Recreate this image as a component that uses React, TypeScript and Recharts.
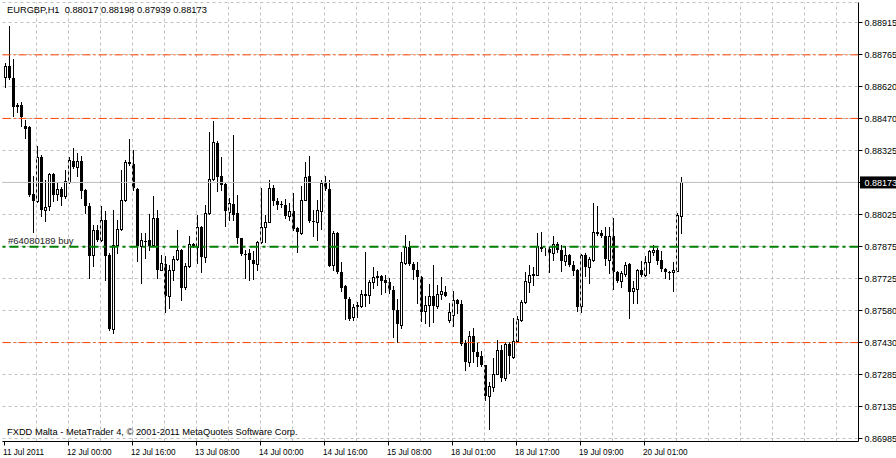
import React from 'react';
import { ComposedChart, Bar, XAxis, YAxis, CartesianGrid, ReferenceLine } from 'recharts';

// EURGBP H1 candles (oldest first)
const opens = [
  0.88664, 0.88714, 0.88657, 0.88533, 0.88533, 0.88436, 0.88428, 0.88121, 0.88085, 0.88293,
  0.88043, 0.88062, 0.88213, 0.88119, 0.88144, 0.88108, 0.88173, 0.88274, 0.88243, 0.88274,
  0.88139, 0.88065, 0.87838, 0.87954, 0.87907, 0.88000, 0.87838, 0.87493, 0.87883, 0.87957,
  0.88093, 0.88269, 0.88258, 0.88142, 0.87876, 0.87903, 0.87904, 0.87884, 0.88008, 0.87768,
  0.87796, 0.87645, 0.87768, 0.87818, 0.87861, 0.87688, 0.87784, 0.87889, 0.87873, 0.87966,
  0.87825, 0.88031, 0.88189, 0.88356, 0.88204, 0.88167, 0.88036, 0.88073, 0.88031, 0.87915,
  0.87842, 0.87846, 0.87811, 0.87795, 0.87897, 0.87966, 0.87989, 0.88147, 0.88088, 0.88074,
  0.88066, 0.88015, 0.88042, 0.87962, 0.87938, 0.88093, 0.88204, 0.87995, 0.87989, 0.88039,
  0.88170, 0.88142, 0.87792, 0.87938, 0.87756, 0.87691, 0.87634, 0.87547, 0.87599, 0.87598,
  0.87657, 0.87649, 0.87709, 0.87733, 0.87737, 0.87722, 0.87711, 0.87672, 0.87583, 0.87513,
  0.87799, 0.87874, 0.87796, 0.87768, 0.87734, 0.87575, 0.87606, 0.87648, 0.87598, 0.87657,
  0.87663, 0.87537, 0.87556, 0.87629, 0.87609, 0.87429, 0.87339, 0.87462, 0.87385, 0.87366,
  0.87328, 0.87181, 0.87225, 0.87285, 0.87397, 0.87264, 0.87425, 0.87364, 0.87439, 0.87533,
  0.87619, 0.87711, 0.87742, 0.87745, 0.87872, 0.87858, 0.87866, 0.87846, 0.87887, 0.87861,
  0.87807, 0.87835, 0.87792, 0.87768, 0.87598, 0.87838, 0.87781, 0.87815, 0.87943, 0.87938,
  0.87923, 0.87815, 0.87923, 0.87758, 0.87714, 0.87748, 0.87795, 0.87667, 0.87679, 0.87767,
  0.87742, 0.87802, 0.87850, 0.87861, 0.87815, 0.87772, 0.87758, 0.87758, 0.87764, 0.88017,
];
const highs = [
  0.88728, 0.88900, 0.88745, 0.88543, 0.88544, 0.88464, 0.88433, 0.88201, 0.88343, 0.88301,
  0.88186, 0.88217, 0.88219, 0.88170, 0.88152, 0.88232, 0.88289, 0.88335, 0.88309, 0.88297,
  0.88144, 0.88078, 0.87977, 0.87977, 0.88062, 0.88039, 0.87847, 0.88046, 0.88000, 0.88232,
  0.88278, 0.88376, 0.88325, 0.88147, 0.87938, 0.87938, 0.88027, 0.88111, 0.88043, 0.87838,
  0.87830, 0.87792, 0.87830, 0.87954, 0.87864, 0.87799, 0.87926, 0.87892, 0.88020, 0.87969,
  0.88070, 0.88405, 0.88459, 0.88366, 0.88289, 0.88170, 0.88101, 0.88394, 0.88116, 0.87915,
  0.87861, 0.87866, 0.87853, 0.87903, 0.88147, 0.88023, 0.88182, 0.88162, 0.88101, 0.88085,
  0.88096, 0.88078, 0.88124, 0.87966, 0.88158, 0.88270, 0.88297, 0.88046, 0.88090, 0.88182,
  0.88201, 0.88182, 0.87946, 0.87942, 0.87805, 0.87699, 0.87642, 0.87611, 0.87620, 0.87672,
  0.87849, 0.87722, 0.87781, 0.87760, 0.87745, 0.87745, 0.87730, 0.87691, 0.87634, 0.87849,
  0.87931, 0.87900, 0.87804, 0.87802, 0.87737, 0.87648, 0.87703, 0.87792, 0.87699, 0.87734,
  0.87694, 0.87614, 0.87667, 0.87634, 0.87629, 0.87444, 0.87482, 0.87498, 0.87429, 0.87390,
  0.87328, 0.87246, 0.87359, 0.87444, 0.87421, 0.87431, 0.87431, 0.87546, 0.87555, 0.87629,
  0.87758, 0.87792, 0.87779, 0.87938, 0.87943, 0.87869, 0.87872, 0.87923, 0.87895, 0.87884,
  0.87876, 0.87841, 0.87807, 0.87773, 0.87841, 0.87846, 0.87825, 0.88078, 0.88062, 0.87954,
  0.87964, 0.87964, 0.88008, 0.87760, 0.87760, 0.87802, 0.87799, 0.87717, 0.87773, 0.87807,
  0.87830, 0.87861, 0.87884, 0.87869, 0.87853, 0.87776, 0.87764, 0.87804, 0.88031, 0.88198,
];
const lows = [
  0.88617, 0.88654, 0.88479, 0.88501, 0.88436, 0.88379, 0.88109, 0.87941, 0.88080, 0.88015,
  0.87992, 0.88046, 0.88085, 0.88093, 0.88070, 0.88101, 0.88170, 0.88239, 0.88201, 0.88101,
  0.88033, 0.87730, 0.87784, 0.87900, 0.87900, 0.87722, 0.87490, 0.87475, 0.87846, 0.87954,
  0.88085, 0.88255, 0.88139, 0.87807, 0.87707, 0.87823, 0.87861, 0.87876, 0.87730, 0.87765,
  0.87574, 0.87591, 0.87719, 0.87815, 0.87626, 0.87679, 0.87781, 0.87873, 0.87799, 0.87756,
  0.87802, 0.88028, 0.88186, 0.88131, 0.88139, 0.87969, 0.88000, 0.88000, 0.87892, 0.87838,
  0.87730, 0.87719, 0.87725, 0.87768, 0.87892, 0.87895, 0.87988, 0.88070, 0.88051, 0.88060,
  0.88008, 0.88000, 0.87954, 0.87849, 0.87935, 0.88090, 0.87989, 0.87926, 0.87907, 0.87957,
  0.88139, 0.87784, 0.87768, 0.87755, 0.87667, 0.87540, 0.87537, 0.87533, 0.87549, 0.87595,
  0.87598, 0.87614, 0.87683, 0.87699, 0.87657, 0.87663, 0.87660, 0.87456, 0.87431, 0.87498,
  0.87796, 0.87792, 0.87725, 0.87614, 0.87529, 0.87521, 0.87509, 0.87524, 0.87591, 0.87632,
  0.87645, 0.87524, 0.87505, 0.87567, 0.87421, 0.87305, 0.87323, 0.87339, 0.87320, 0.87320,
  0.87162, 0.87030, 0.87204, 0.87282, 0.87250, 0.87258, 0.87289, 0.87360, 0.87435, 0.87529,
  0.87614, 0.87665, 0.87699, 0.87742, 0.87856, 0.87838, 0.87758, 0.87815, 0.87850, 0.87760,
  0.87792, 0.87784, 0.87745, 0.87575, 0.87574, 0.87737, 0.87707, 0.87807, 0.87931, 0.87918,
  0.87792, 0.87753, 0.87680, 0.87711, 0.87686, 0.87737, 0.87544, 0.87614, 0.87615, 0.87737,
  0.87737, 0.87753, 0.87838, 0.87795, 0.87760, 0.87730, 0.87727, 0.87671, 0.87760, 0.87939,
];
const closes = [
  0.88711, 0.88658, 0.88525, 0.88525, 0.88476, 0.88423, 0.88113, 0.88085, 0.88293, 0.88043,
  0.88059, 0.88213, 0.88113, 0.88144, 0.88104, 0.88178, 0.88278, 0.88243, 0.88274, 0.88131,
  0.88062, 0.87830, 0.87954, 0.87907, 0.88000, 0.87830, 0.87493, 0.87884, 0.87957, 0.88093,
  0.88266, 0.88258, 0.88147, 0.87876, 0.87907, 0.87901, 0.87876, 0.88008, 0.87768, 0.87799,
  0.87645, 0.87765, 0.87818, 0.87861, 0.87683, 0.87787, 0.87889, 0.87876, 0.87966, 0.87825,
  0.88031, 0.88189, 0.88360, 0.88196, 0.88162, 0.88039, 0.88078, 0.88023, 0.87915, 0.87841,
  0.87835, 0.87811, 0.87795, 0.87897, 0.87966, 0.87989, 0.88147, 0.88085, 0.88066, 0.88066,
  0.88015, 0.88042, 0.87957, 0.87941, 0.88093, 0.88198, 0.87992, 0.87989, 0.88046, 0.88170,
  0.88142, 0.87787, 0.87938, 0.87756, 0.87683, 0.87632, 0.87541, 0.87595, 0.87603, 0.87657,
  0.87648, 0.87709, 0.87734, 0.87737, 0.87714, 0.87707, 0.87672, 0.87583, 0.87517, 0.87804,
  0.87874, 0.87795, 0.87765, 0.87734, 0.87572, 0.87606, 0.87648, 0.87598, 0.87657, 0.87667,
  0.87648, 0.87572, 0.87629, 0.87609, 0.87425, 0.87339, 0.87462, 0.87385, 0.87362, 0.87325,
  0.87181, 0.87227, 0.87285, 0.87397, 0.87264, 0.87425, 0.87366, 0.87439, 0.87540, 0.87620,
  0.87714, 0.87745, 0.87748, 0.87876, 0.87864, 0.87860, 0.87846, 0.87887, 0.87861, 0.87807,
  0.87835, 0.87792, 0.87764, 0.87594, 0.87835, 0.87779, 0.87818, 0.87943, 0.87935, 0.87923,
  0.87818, 0.87923, 0.87758, 0.87714, 0.87753, 0.87792, 0.87663, 0.87683, 0.87767, 0.87742,
  0.87804, 0.87856, 0.87861, 0.87807, 0.87772, 0.87756, 0.87757, 0.87767, 0.88020, 0.88173,
];

const xTickBars = [0, 16, 32, 48, 64, 80, 96, 112, 128, 144, 160];
const xTickLabels = [
  '11 Jul 2011', '12 Jul 00:00', '12 Jul 16:00', '13 Jul 08:00', '14 Jul 00:00', '14 Jul 16:00',
  '15 Jul 08:00', '18 Jul 01:00', '18 Jul 17:00', '19 Jul 09:00', '20 Jul 01:00',
];
const yTickLabels = [
  '0.88915', '0.88765', '0.88620', '0.88470', '0.88325', '0.88175', '0.88025',
  '0.87875', '0.87725', '0.87580', '0.87430', '0.87285', '0.87135', '0.86985',
];
const bidPrice = 0.88173;
const orderPrice = 0.87875;
const orderLabel = '#64080189 buy';
const levelPrices = [0.88765, 0.8847, 0.8743];
const title = 'EURGBP,H1  0.88017 0.88198 0.87939 0.88173';
const copyright = 'FXDD Malta - MetaTrader 4, \u00a9 2001-2011 MetaQuotes Software Corp.';

const SLOTS = 214; // bar slots across the window, right part empty
const GRID_EVERY = 8;
const Y_TOP_TICK = 0.88915;
const Y_BOT_TICK = 0.86985;
const yStep = (Y_TOP_TICK - Y_BOT_TICK) / (yTickLabels.length - 1);
const pxUnit = (Y_TOP_TICK - Y_BOT_TICK) / 416;
const yDomain = [Y_BOT_TICK - 3 * pxUnit, Y_TOP_TICK + 20 * pxUnit];
const yTicks = yTickLabels.map((_, k) => Y_TOP_TICK - k * yStep);
const gridBars = Array.from({ length: Math.floor((SLOTS - 1) / GRID_EVERY) }, (_, k) => (k + 1) * GRID_EVERY);

const data = Array.from({ length: SLOTS }, (_, i) =>
  i < opens.length
    ? { i, o: opens[i], h: highs[i], l: lows[i], c: closes[i], range: [lows[i], highs[i]] }
    : { i }
);

const FONT = "Tahoma, 'Liberation Sans', Arial, sans-serif";
const ORANGE = '#ff4500';

const Candle = (props: any) => {
  const { x, y, width, height, payload } = props;
  if (!payload || payload.o == null) return null;
  const top = Math.min(y, y + height);
  const bot = Math.max(y, y + height);
  const span = payload.h - payload.l;
  const py = (v: number) => (span === 0 ? top : top + ((payload.h - v) / span) * (bot - top));
  // snap the wick to a pixel centre so the candle stays crisp
  const cx = Math.floor(x + width / 2) + 0.5;
  const bTop = Math.round(Math.min(py(payload.o), py(payload.c)));
  const bBot = Math.round(Math.max(py(payload.o), py(payload.c)));
  const bull = payload.c >= payload.o;
  return (
    <g>
      <line x1={cx} x2={cx} y1={Math.round(top)} y2={Math.round(bot) + 1} stroke="#000" strokeWidth={1} />
      {bull ? (
        <rect x={cx - 1} y={bTop + 0.5} width={2} height={Math.max(bBot - bTop, 0)} fill="#fff" stroke="#000" strokeWidth={1} />
      ) : (
        <rect x={cx - 1.5} y={bTop} width={3} height={Math.max(bBot - bTop, 1)} fill="#000" />
      )}
    </g>
  );
};

const XTick = (props: any) => {
  const { x, y, payload } = props;
  const k = xTickBars.indexOf(payload.value);
  if (k < 0) return null;
  return (
    <text x={x - 1.5} y={y + 7} fontSize={8.2} fontFamily={FONT} fill="#000">
      {xTickLabels[k]}
    </text>
  );
};

const yLabel = (v: number) => {
  if (Math.abs(v - bidPrice) < yStep / 4) return '';
  return yTickLabels[Math.round((Y_TOP_TICK - v) / yStep)] ?? '';
};

const BidTag = (props: any) => {
  const vb = props.viewBox || {};
  const left = vb.x + vb.width + 1.5;
  return (
    <g>
      <rect x={left} y={vb.y - 6} width={40} height={12} fill="#000" />
      <text x={left + 4.5} y={vb.y + 3.5} fontSize={9} fontFamily={FONT} fill="#fff">
        {bidPrice.toFixed(5)}
      </text>
    </g>
  );
};

const OrderTag = (props: any) => {
  const vb = props.viewBox || {};
  return (
    <text x={vb.x + 5.5} y={vb.y - 3} fontSize={9.5} fontFamily={FONT} fill="#222">
      {orderLabel}
    </text>
  );
};

export default function App() {
  return (
    <div style={{ position: 'absolute', left: 0, top: 0, width: 896, height: 458, background: '#fff' }}>
      <ComposedChart width={896} height={458} data={data} margin={{ top: 2.5, right: 0, bottom: 0, left: 2.5 }}>
        <CartesianGrid vertical={false} stroke="#c0c0c0" strokeDasharray="3 3" />
        {gridBars.map((b) => (
          <ReferenceLine key={'g' + b} x={b} stroke="#c0c0c0" strokeDasharray="3 3" />
        ))}
        <XAxis
          dataKey="i"
          type="category"
          ticks={xTickBars}
          interval={0}
          height={16.5}
          tickSize={4}
          tick={<XTick />}
          axisLine={{ stroke: '#000' }}
          tickLine={{ stroke: '#000' }}
        />
        <XAxis xAxisId="top" dataKey="i" orientation="top" height={0} tick={false} tickLine={false} axisLine={{ stroke: '#000' }} />
        <YAxis
          orientation="right"
          type="number"
          domain={yDomain}
          allowDataOverflow
          ticks={yTicks}
          interval={0}
          width={37.5}
          tickSize={4}
          tickFormatter={yLabel}
          tick={{ fill: '#000', fontSize: 9, fontFamily: FONT }}
          axisLine={{ stroke: '#000' }}
          tickLine={{ stroke: '#000' }}
        />
        <YAxis yAxisId="left" orientation="left" type="number" domain={yDomain} allowDataOverflow width={0} tick={false} tickLine={false} axisLine={{ stroke: '#000' }} />
        <ReferenceLine y={bidPrice} stroke="#c0c0c0" label={<BidTag />} />
        <Bar dataKey="range" barSize={3} shape={<Candle />} isAnimationActive={false} />
        {levelPrices.map((p) => (
          <ReferenceLine key={'lv' + p} y={p} stroke={ORANGE} strokeDasharray="8 3 2 3" />
        ))}
        <ReferenceLine y={orderPrice} stroke="#008000" strokeWidth={2} strokeDasharray="9 4 3 4" label={<OrderTag />} />
      </ComposedChart>
      <div style={{ position: 'absolute', left: 7, top: 4, fontFamily: FONT, fontSize: 9.3, color: '#000', whiteSpace: 'pre', lineHeight: '12px' }}>
        {title}
      </div>
      <div style={{ position: 'absolute', left: 7, top: 426, fontFamily: FONT, fontSize: 9.3, color: '#000', whiteSpace: 'pre', lineHeight: '12px' }}>
        {copyright}
      </div>
    </div>
  );
}
